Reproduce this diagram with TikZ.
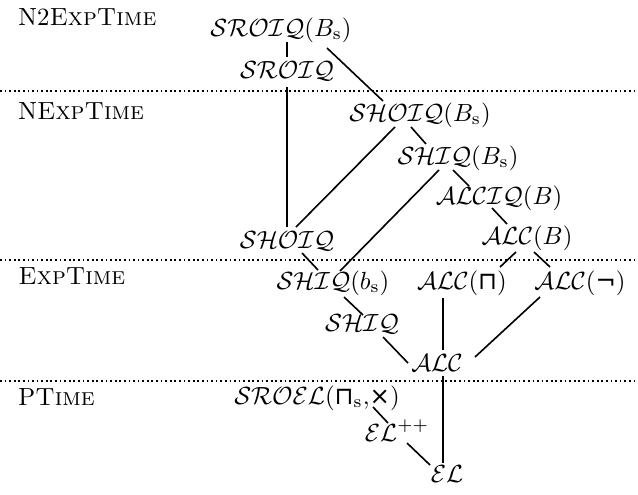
\documentclass[tikz,border=0pt]{standalone}
\usepackage{fontspec}
\newfontfamily\dvsfont{DejaVu Sans}
\newcommand{\opsym}[1]{\mbox{\dvsfont\fontsize{9.8pt}{10pt}\selectfont #1}}
\begin{document}
\begin{tikzpicture}[x=0.403pt,y=-0.403pt,
  dl/.style={inner sep=0pt, outer sep=0pt, text height=7.5pt, text depth=2.5pt},
  cls/.style={inner sep=0pt, anchor=west},
  edge/.style={line width=0.65pt},
  sep/.style={line width=0.8pt, dash pattern=on 0.7pt off 1.15pt}]
\useasboundingbox (0,0) rectangle (638,494);
% complexity class separators
\coordinate (s1a) at (0,91);  \coordinate (s1b) at (638,91);
\coordinate (s2a) at (0,260); \coordinate (s2b) at (638,260);
\coordinate (s3a) at (0,381); \coordinate (s3b) at (638,381);
\draw[sep] (s1a) -- (s1b);
\draw[sep] (s2a) -- (s2b);
\draw[sep] (s3a) -- (s3b);
% class labels
\node[cls] (c1) at (18,17)  {N2\textsc{ExpTime}};
\node[cls] (c2) at (18,111) {N\textsc{ExpTime}};
\node[cls] (c3) at (18,276) {\textsc{ExpTime}};
\node[cls] (c4) at (18,397) {P\textsc{Time}};
% logics
\node[dl] (sroiqb)   at (281,30)  {$\mathcal{SROIQ}(B_{\mathrm{s}})$};
\node[dl] (sroiq)    at (287,72)  {$\mathcal{SROIQ}$};
\node[dl] (shoiqb)   at (420,115) {$\mathcal{SHOIQ}(B_{\mathrm{s}})$};
\node[dl] (shiqb)    at (458,158) {$\mathcal{SHIQ}(B_{\mathrm{s}})$};
\node[dl] (alciqb)   at (499,198) {$\mathcal{ALCIQ}(B)$};
\node[dl] (alcb)     at (527,238) {$\mathcal{ALC}(B)$};
\node[dl] (shoiq)    at (287,242) {$\mathcal{SHOIQ}$};
\node[dl] (shiqbs)   at (333,283) {$\mathcal{SHIQ}(b_{\mathrm{s}})$};
\node[dl] (alcsq)    at (462,283) {$\mathcal{ALC}(\opsym{⊓})$};
\node[dl] (alcneg)   at (580,283) {$\mathcal{ALC}(\opsym{¬})$};
\node[dl] (shiq)     at (362,325) {$\mathcal{SHIQ}$};
\node[dl] (alc)      at (437,365) {$\mathcal{ALC}$};
\node[dl] (sroel)    at (317,398) {$\mathcal{SROEL}(\opsym{⊓}_{\mathrm{s}}{,}\opsym{×})$};
\node[dl] (elpp)     at (397,435) {$\mathcal{EL}^{++}$};
\node[dl] (el)       at (447,476) {$\mathcal{EL}$};
% connectors
\draw[edge] ([shift={(6,12)}]sroiqb.center) -- ([shift={(0,-15)}]sroiq.center);
\draw[edge] ([shift={(46,18)}]sroiqb.center) -- ([shift={(-37,-14)}]shoiqb.center);
\draw[edge] ([shift={(0,15)}]sroiq.center) -- ([shift={(0,-15)}]shoiq.center);
\draw[edge] ([shift={(-25,12)}]shoiqb.center) -- ([shift={(9,-15)}]shoiq.center);
\draw[edge] ([shift={(-9,12)}]shoiqb.center) -- ([shift={(-32,-14)}]shiqb.center);
\draw[edge] ([shift={(-19,12)}]shiqb.center) -- ([shift={(7,-12)}]shiqbs.center);
\draw[edge] ([shift={(-5,12)}]shiqb.center) -- ([shift={(-30,-12)}]alciqb.center);
\draw[edge] ([shift={(-7,10)}]alciqb.center) -- ([shift={(-20,-14)}]alcb.center);
\draw[edge] ([shift={(-11,14)}]alcb.center) -- ([shift={(38,-16)}]alcsq.center);
\draw[edge] ([shift={(7,14)}]alcb.center) -- ([shift={(-30,-16)}]alcneg.center);
\draw[edge] ([shift={(15,11)}]shoiq.center) -- ([shift={(-15,-13)}]shiqbs.center);
\draw[edge] ([shift={(11,14)}]shiqbs.center) -- ([shift={(1,-10)}]shiq.center);
\draw[edge] ([shift={(21,12)}]shiq.center) -- ([shift={(-29,-2)}]alc.center);
\draw[edge] ([shift={(-19,15)}]alcsq.center) -- ([shift={(6,-15)}]alc.center);
\draw[edge] ([shift={(-40,14)}]alcneg.center) -- ([shift={(38,-8)}]alc.center);
\draw[edge] ([shift={(6,11)}]alc.center) -- ([shift={(-4,-13)}]el.center);
\draw[edge] ([shift={(56,9)}]sroel.center) -- ([shift={(-9,-12)}]elpp.center);
\draw[edge] ([shift={(10,8)}]elpp.center) -- ([shift={(-17,-11)}]el.center);
\end{tikzpicture}
\end{document}
